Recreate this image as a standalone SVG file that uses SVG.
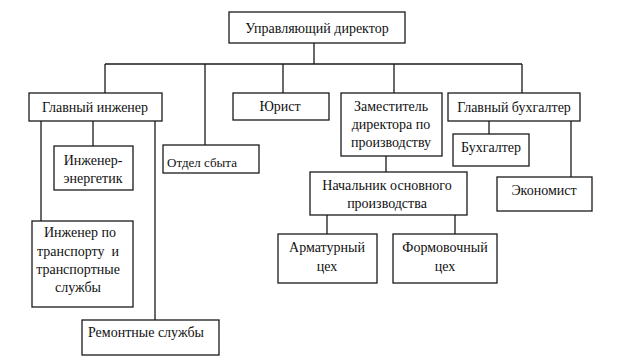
<svg xmlns="http://www.w3.org/2000/svg" width="633" height="363" viewBox="0 0 633 363">
<style>
.b{fill:#fff;stroke:#1a1a1a;stroke-width:1.3}
.c{fill:none;stroke:#1a1a1a;stroke-width:1.3}
text{font-family:'Liberation Serif','DejaVu Serif','Times New Roman',serif;font-size:14px;fill:#111;text-anchor:middle;white-space:pre}
.s{text-anchor:start}
</style>
<rect width="633" height="363" fill="#fff"/>
<g id="connectors">
<path class="c" d="M314 43V64M105 64H522M105 64V93M205 64V145M283 64V93M394 64V93M522 64V93"/>
<path class="c" d="M41 121V221M93 121V146M155 121V320"/>
<path class="c" d="M386 156V172M327 215V234M455 215V234"/>
<path class="c" d="M489 121V134M571 121V177"/>
</g>
<g font-family="Liberation Serif, DejaVu Serif, serif">
<g id="director"><rect class="b" x="229" y="12" width="176" height="31"/><text x="317" y="33">Управляющий директор</text></g>
<g id="chief-engineer"><rect class="b" x="29" y="93" width="133" height="28"/><text x="95" y="112">Главный инженер</text></g>
<g id="lawyer"><rect class="b" x="233" y="93" width="96" height="27"/><text x="280" y="111">Юрист</text></g>
<g id="deputy"><rect class="b" x="341" y="93" width="101" height="63"/><text x="391" y="111">Заместитель</text><text x="391" y="129">директора по</text><text x="391" y="147">производству</text></g>
<g id="chief-accountant"><rect class="b" x="448" y="93" width="132" height="28"/><text x="514" y="112">Главный бухгалтер</text></g>
<g id="power-engineer"><rect class="b" x="54" y="146" width="79" height="44"/><text x="93" y="165">Инженер-</text><text x="93" y="183">энергетик</text></g>
<g id="sales"><rect class="b" x="163" y="145" width="96" height="28"/><text class="s" x="167" y="167" style="font-size:13px">Отдел сбыта</text></g>
<g id="accountant"><rect class="b" x="453" y="134" width="76" height="32"/><text x="491" y="152">Бухгалтер</text></g>
<g id="economist"><rect class="b" x="497" y="177" width="95" height="34"/><text x="544" y="195">Экономист</text></g>
<g id="production-head"><rect class="b" x="310" y="172" width="157" height="43"/><text x="387" y="190">Начальник основного</text><text x="387" y="208">производства</text></g>
<g id="transport"><rect class="b" x="32" y="221" width="101" height="86"/><text x="80" y="237">Инженер по</text><text x="78" y="256" xml:space="preserve">транспорту  и</text><text x="78" y="274">транспортные</text><text x="78" y="292">службы</text></g>
<g id="rebar-shop"><rect class="b" x="278" y="234" width="99" height="49"/><text x="327" y="252">Арматурный</text><text x="327" y="271">цех</text></g>
<g id="molding-shop"><rect class="b" x="393" y="234" width="104" height="49"/><text x="445" y="252">Формовочный</text><text x="445" y="271">цех</text></g>
<g id="repair"><rect class="b" x="82" y="320" width="137" height="35"/><text class="s" x="88" y="337">Ремонтные службы</text></g>
</g>
</svg>
